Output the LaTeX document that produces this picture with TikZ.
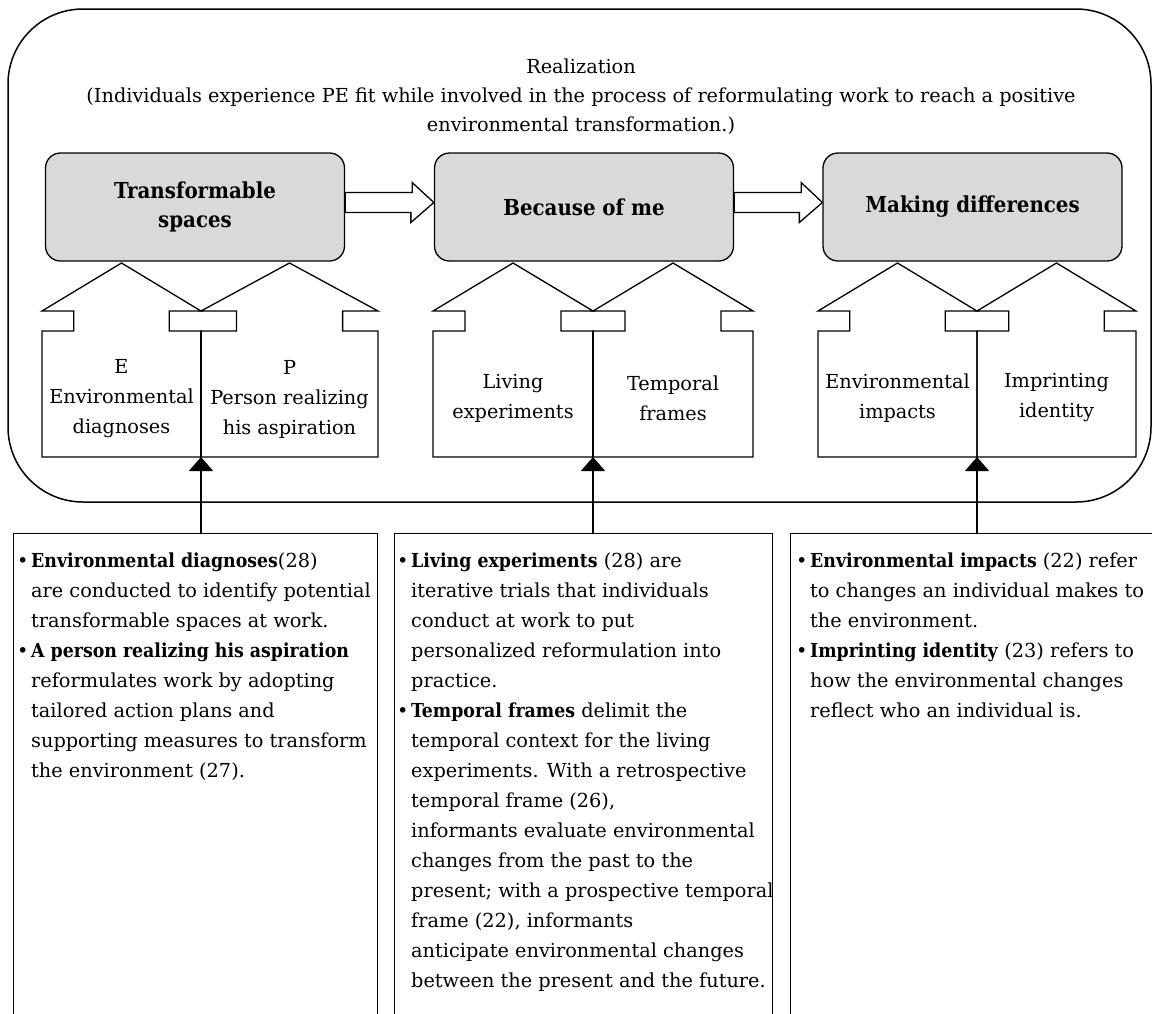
\documentclass[tikz,border=0pt]{standalone}
\usepackage{fontspec}
\setmainfont{DejaVu Serif}[BoldFont={DejaVu Serif Condensed Bold}]
\usetikzlibrary{arrows.meta}
\definecolor{boxgray}{HTML}{D9D9D9}
\newcommand{\drawhouse}[2]{%
  \pgfmathsetmacro\hc{(#1+#2)/2}%
  \pgfmathsetmacro\hi{0.2*(#2-#1)}%
  \draw[housestyle] (\hc,263) -- (#2,311) -- ({#2-\hi},311) -- ({#2-\hi},331) -- (#2,331) -- (#2,457) -- (#1,457) -- (#1,331) -- ({#1+\hi},331) -- ({#1+\hi},311) -- (#1,311) -- cycle;%
}
\newcommand{\blt}{\makebox[13pt][l]{\hspace*{-1pt}\textbullet}}
\newcommand{\ind}{\hspace*{13pt}}
\begin{document}
\begin{tikzpicture}[x=1pt,y=-1pt,
  outer/.style={draw,line width=1.5pt,rounded corners=75pt,minimum width=1143pt,minimum height=493pt,inner sep=0},
  gbox/.style={draw,line width=1.3pt,fill=boxgray,rounded corners=15pt,minimum width=299pt,minimum height=108pt,align=center,font=\fontsize{22}{29}\selectfont\bfseries},
  blockarrow/.style={draw,line width=1.3pt,fill=white},
  housestyle/.style={draw,line width=1.3pt,line join=miter},
  hlabel/.style={align=center,font=\fontsize{19.3}{30}\selectfont,inner sep=0},
  descbox/.style={draw,line width=1.4pt,anchor=north west,inner sep=0},
  desctext/.style={anchor=north west,align=left,inner sep=0,font=\fontsize{19.3}{30}\selectfont},
  link/.style={line width=1.4pt,-{Triangle[width=24pt,length=14pt]}}
]
\useasboundingbox (0,0) rectangle (1152,1013);
\node[outer] (real) at (579.5,255.5) {};
\node[align=center,font=\fontsize{19.3}{29}\selectfont] (title) at (581,97) {Realization\\(Individuals experience PE fit while involved in the process of reformulating work to reach a positive\\environmental transformation.)};
% top boxes
\node[gbox] (ts) at (195,207) {Transformable\\spaces};
\node[gbox] (bm) at (584,207) {Because of me};
\node[gbox] (md) at (972.5,207) {Making differences};
% block arrows
\draw[blockarrow] ([yshift=14.5pt]ts.east) -- ++(67,0) -- ++(0,-10) -- ([yshift=4.5pt]bm.west) -- ++(-23,20) -- ++(0,-10) -- ([yshift=-5.5pt]ts.east) -- cycle;
\draw[blockarrow] ([yshift=14.5pt]bm.east) -- ++(67,0) -- ++(0,-10) -- ([yshift=4.5pt]md.west) -- ++(-23,20) -- ++(0,-10) -- ([yshift=-5.5pt]bm.east) -- cycle;
% houses
\drawhouse{42}{201}
\drawhouse{201}{378}
\drawhouse{433}{593}
\drawhouse{593}{753}
\drawhouse{818}{977}
\drawhouse{977}{1136}
\coordinate (da) at (201,457);
\coordinate (db) at (593,457);
\coordinate (dc) at (977,457);
\draw[line width=1.9pt] (201,331) -- (da);
\draw[line width=1.9pt] (593,331) -- (db);
% house labels
\node[hlabel] (he) at (121.5,399) {E\\Environmental\\diagnoses};
\node[hlabel] (hp) at (289.5,399) {P\\Person realizing\\his aspiration};
\node[hlabel] (hl) at (513,398) {Living\\experiments};
\node[hlabel] (ht) at (673,398) {Temporal\\frames};
\node[hlabel] (hi) at (897.5,398) {Environmental\\impacts};
\node[hlabel] (hm) at (1056.5,398) {Imprinting\\identity};
% description boxes
\node[descbox,minimum width=364pt,minimum height=520pt] (dA) at (13,533) {};
\node[descbox,minimum width=378pt,minimum height=520pt] (dB) at (394,533) {};
\node[descbox,minimum width=362pt,minimum height=520pt] (dC) at (790,533) {};
\draw[link] (da |- dA.north) -- (da);
\draw[link] (db |- dB.north) -- (db);
\draw[link] (dc |- dC.north) -- (dc);
\node[desctext] (tA) at (18,553) {\blt\textbf{Environmental diagnoses}(28)\\
\ind are conducted to identify potential\\
\ind transformable spaces at work.\\
\blt\textbf{A person realizing his aspiration}\\
\ind reformulates work by adopting\\
\ind tailored action plans and\\
\ind supporting measures to transform\\
\ind the environment (27).};
\node[desctext] (tB) at (398,553) {\blt\textbf{Living experiments} (28) are\\
\ind iterative trials that individuals\\
\ind conduct at work to put\\
\ind personalized reformulation into\\
\ind practice.\\
\blt\textbf{Temporal frames} delimit the\\
\ind temporal context for the living\\
\ind experiments. With a retrospective\\
\ind temporal frame (26),\\
\ind informants evaluate environmental\\
\ind changes from the past to the\\
\ind present; with a prospective temporal\\
\ind frame (22), informants\\
\ind anticipate environmental changes\\
\ind between the present and the future.};
\node[desctext] (tC) at (797,553) {\blt\textbf{Environmental impacts} (22) refer\\
\ind to changes an individual makes to\\
\ind the environment.\\
\blt\textbf{Imprinting identity} (23) refers to\\
\ind how the environmental changes\\
\ind reflect who an individual is.};
\end{tikzpicture}
\end{document}
